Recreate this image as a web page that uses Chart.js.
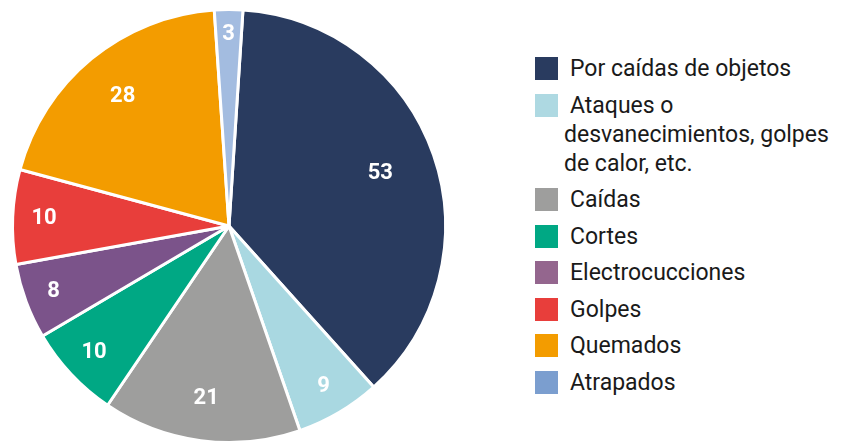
<!DOCTYPE html>
<html>
<head>
<meta charset="utf-8">
<script src="https://cdn.jsdelivr.net/npm/chart.js@4/dist/chart.umd.min.js"></script>
<style>
  html, body { margin: 0; padding: 0; background: #fff; overflow: hidden; }
  #wrap { position: absolute; left: 0; top: 0; width: 458px; height: 452px; }
  #legend { position: absolute; left: 535px; top: 54px; width: 312px;
            font-family: "Roboto", "DejaVu Sans", sans-serif; font-size: 23px; color: #1a1a1a; }
  .item { position: relative; padding-left: 29px; line-height: 29px; margin-bottom: 7.5px; }
  .item .sw { position: absolute; left: 0; top: 3px; width: 23px; height: 23px; }
  .item .txt { display: block; text-indent: 6px; }
</style>
</head>
<body>
<div id="wrap"><canvas id="canvas"></canvas></div>
<div id="legend"></div>
<script>
const categories = ["Por caídas de objetos", "Ataques o desvanecimientos, golpes de calor, etc.", "Caídas", "Cortes", "Electrocucciones", "Golpes", "Quemados", "Atrapados"];
const values = [53, 9, 21, 10, 8, 10, 28, 3];
const sliceColors = ["#293b5f", "#a9d8e1", "#9e9e9d", "#00a884", "#7b538a", "#e83e3b", "#f39c00", "#a3bce0"];
const legendColors = ["#293b5f", "#aed9e2", "#9e9e9d", "#00a884", "#94668e", "#e83e3b", "#f39c00", "#7b9ecf"];

// labels drawn inside slices (no datalabels plugin available offline)
const sliceLabels = {
    id: "sliceLabels",
    afterDatasetsDraw(chart) {
        const ctx = chart.ctx;
        const meta = chart.getDatasetMeta(0);
        ctx.save();
        ctx.fillStyle = "#fff";
        ctx.font = "bold 22px Roboto, 'DejaVu Sans', sans-serif";
        ctx.textAlign = "center";
        ctx.textBaseline = "middle";
        meta.data.forEach((arc, i) => {
            const p = arc.getProps(["x", "y", "startAngle", "endAngle", "outerRadius"], true);
            const span = p.endAngle - p.startAngle;
            const mid = (p.startAngle + p.endAngle) / 2;
            const f = 0.9 - 0.16 * Math.min(1, span / (Math.PI / 2));
            const r = p.outerRadius * f;
            ctx.fillText(String(values[i]), p.x + Math.cos(mid) * r, p.y + Math.sin(mid) * r);
        });
        ctx.restore();
    }
};

const myChart = new Chart(document.getElementById("canvas").getContext("2d"), {
    type: "pie",
    data: {
        labels: categories,
        datasets: [{
            data: values,
            backgroundColor: sliceColors,
            borderColor: "#fff",
            borderWidth: 3
        }]
    },
    options: {
        responsive: true,
        maintainAspectRatio: false,
        animation: false,
        rotation: 3.7,
        layout: { padding: { left: 11, right: 11, top: 8, bottom: 8 } },
        plugins: {
            legend: { display: false },
            tooltip: { enabled: false }
        }
    },
    plugins: [sliceLabels]
});

const legend = document.getElementById("legend");
categories.forEach((c, i) => {
    const row = document.createElement("div");
    row.className = "item";
    const sw = document.createElement("span");
    sw.className = "sw";
    sw.style.background = legendColors[i];
    const txt = document.createElement("span");
    txt.className = "txt";
    txt.textContent = c;
    row.appendChild(sw);
    row.appendChild(txt);
    legend.appendChild(row);
});
</script>
</body>
</html>
